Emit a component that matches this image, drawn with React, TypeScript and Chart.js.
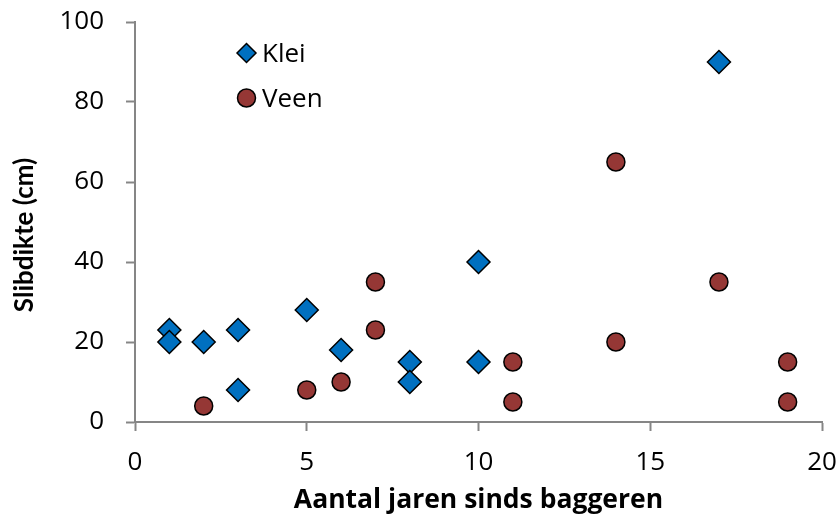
import React, { useEffect, useRef } from "react";
import { Chart, registerables } from "chart.js";

Chart.register(...registerables);

const kleiX = [1, 1, 2, 3, 3, 5, 6, 8, 8, 10, 10, 17];
const kleiY = [23, 20, 20, 23, 8, 28, 18, 15, 10, 40, 15, 90];
const veenX = [2, 5, 6, 7, 7, 11, 11, 14, 14, 17, 19, 19];
const veenY = [4, 8, 10, 35, 23, 15, 5, 65, 20, 35, 15, 5];
const seriesNames = ["Klei", "Veen"];
const xTitle = "Aantal jaren sinds baggeren";
const yTitle = "Slibdikte (cm)";

const FONT = "'Open Sans', 'Noto Sans', sans-serif";
const VFONT = "Lato, 'Noto Sans', sans-serif";
const BLUE = "#0070C0";
const RED = "#953735";
const AXIS = "#868686";

const legendPlugin = {
  id: "insideLegend",
  afterDraw(chart: any) {
    const ctx = chart.ctx;
    ctx.save();
    const items = [
      { name: seriesNames[0], style: "rectRot", color: BLUE, y: 53, r: 9.5 },
      { name: seriesNames[1], style: "circle", color: RED, y: 98, r: 9 },
    ];
    const mx = 246.5;
    for (const it of items) {
      ctx.beginPath();
      if (it.style === "circle") {
        ctx.arc(mx, it.y, it.r, 0, Math.PI * 2);
      } else {
        ctx.moveTo(mx - it.r, it.y);
        ctx.lineTo(mx, it.y - it.r);
        ctx.lineTo(mx + it.r, it.y);
        ctx.lineTo(mx, it.y + it.r);
        ctx.closePath();
      }
      ctx.fillStyle = it.color;
      ctx.fill();
      ctx.lineWidth = 1.5;
      ctx.strokeStyle = "#000";
      ctx.stroke();
      ctx.fillStyle = "#000";
      ctx.font = `26px ${FONT}`;
      ctx.textAlign = "left";
      ctx.textBaseline = "alphabetic";
      ctx.fillText(it.name, 262, it.y + 9);
    }
    ctx.restore();
  },
};

const yTitlePlugin = {
  id: "yTitle",
  afterDraw(chart: any) {
    const ctx = chart.ctx;
    ctx.save();
    ctx.translate(33, 235);
    ctx.rotate(-Math.PI / 2);
    ctx.font = `bold 26px ${VFONT}`;
    ctx.fillStyle = "#000";
    ctx.textAlign = "center";
    ctx.textBaseline = "alphabetic";
    ctx.fillText(yTitle, 0, 0);
    ctx.restore();
  },
};

export default function App() {
  const ref = useRef<HTMLCanvasElement>(null);
  useEffect(() => {
    if (!ref.current) return;
    const chart = new Chart(ref.current, {
      type: "scatter",
      data: {
        datasets: [
          {
            label: seriesNames[0],
            data: kleiX.map((x, i) => ({ x, y: kleiY[i] })),
            pointStyle: "rectRot",
            pointRadius: 11.5,
            pointHoverRadius: 11.5,
            backgroundColor: BLUE,
            borderColor: "#000",
            pointBorderWidth: 1.5,
            borderWidth: 1.5,
          },
          {
            label: seriesNames[1],
            data: veenX.map((x, i) => ({ x, y: veenY[i] })),
            pointStyle: "circle",
            pointRadius: 9,
            pointHoverRadius: 9,
            backgroundColor: RED,
            borderColor: "#000",
            pointBorderWidth: 1.5,
            borderWidth: 1.5,
          },
        ],
      },
      options: {
        animation: false,
        responsive: false,
        layout: { padding: { top: 22, right: 18, left: 0, bottom: 0 } },
        plugins: { legend: { display: false }, tooltip: { enabled: false } },
        scales: {
          x: {
            type: "linear",
            min: 0,
            max: 20,
            afterFit: (s: any) => {
              s.height = 97;
              s.paddingLeft = 0;
              s.paddingRight = 0;
            },
            ticks: {
              stepSize: 5,
              color: "#000",
              font: { family: FONT, size: 26 },
              padding: 16,
              maxRotation: 0,
            },
            grid: {
              drawOnChartArea: false,
              drawTicks: true,
              tickLength: 9,
              tickColor: AXIS,
              tickWidth: 2,
            },
            border: { color: AXIS, width: 2 },
            title: {
              display: true,
              text: xTitle,
              color: "#000",
              font: { family: FONT, size: 26.5, weight: "bold" },
              padding: { top: 0, bottom: 3 },
            },
          },
          y: {
            type: "linear",
            min: 0,
            max: 100,
            afterFit: (s: any) => {
              s.width = 135;
              s.paddingTop = 0;
              s.paddingBottom = 0;
            },
            ticks: {
              stepSize: 20,
              color: "#000",
              font: { family: FONT, size: 26 },
              padding: 22,
            },
            grid: {
              drawOnChartArea: false,
              drawTicks: true,
              tickLength: 9,
              tickColor: AXIS,
              tickWidth: 2,
            },
            border: { color: AXIS, width: 2 },
            title: { display: false, text: yTitle },
          },
        },
      },
      plugins: [legendPlugin, yTitlePlugin],
    } as any);
    return () => chart.destroy();
  }, []);
  return (
    <div style={{ position: "fixed", left: 0, top: 0, width: 840, height: 519, background: "#fff" }}>
      <canvas ref={ref} width={840} height={519} style={{ display: "block" }} />
    </div>
  );
}
